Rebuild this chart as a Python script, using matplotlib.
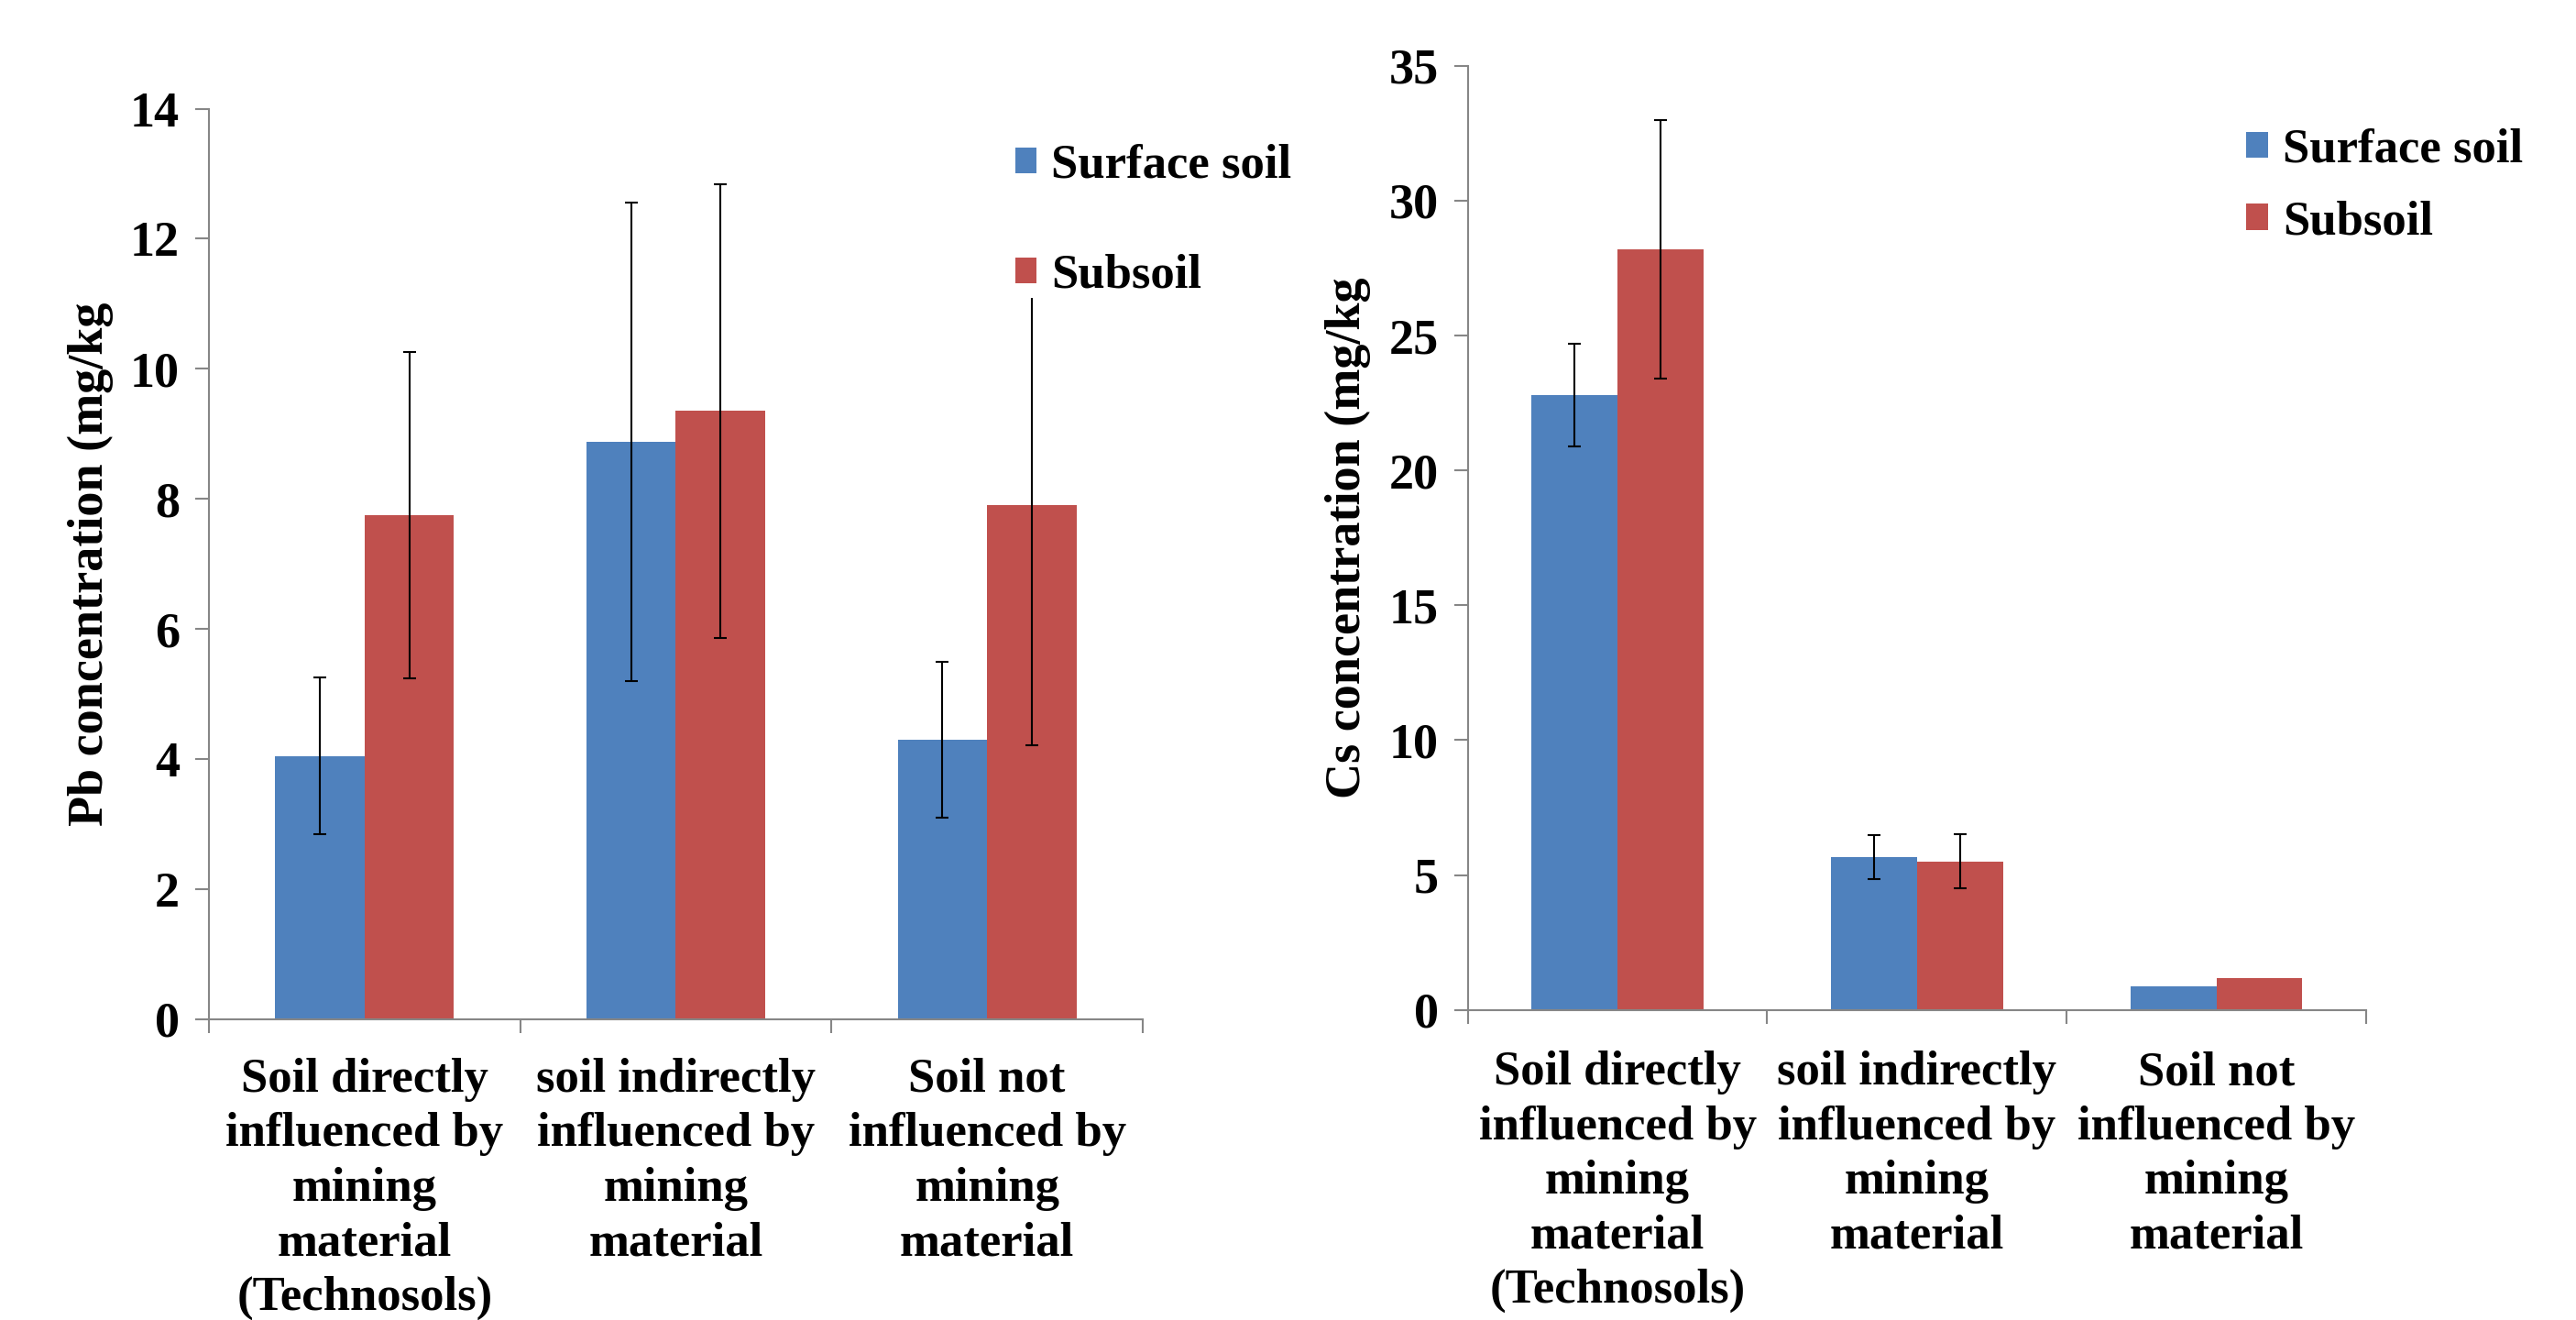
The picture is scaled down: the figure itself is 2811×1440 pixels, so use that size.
import numpy as np
import matplotlib
matplotlib.use('Agg')
import matplotlib.pyplot as plt

# ---- Du lieu doc tu hinh ----
categories = ['Soil directly\ninfluenced by\nmining\nmaterial\n(Technosols)',
              'soil indirectly\ninfluenced by\nmining\nmaterial',
              'Soil not\ninfluenced by\nmining\nmaterial']
series_names = ['Surface soil', 'Subsoil']

pb_surface = [4.05, 8.88, 4.30]
pb_surface_err = [1.20, 3.68, 1.20]
pb_subsoil = [7.75, 9.35, 7.90]
pb_subsoil_err = [2.51, 3.49, 3.69]

cs_surface = [22.8, 5.67, 0.88]
cs_surface_err = [1.90, 0.82, 0.0]
cs_subsoil = [28.2, 5.51, 1.17]
cs_subsoil_err = [4.80, 1.00, 0.0]

pb_yticks = [0, 2, 4, 6, 8, 10, 12, 14]
cs_yticks = [0, 5, 10, 15, 20, 25, 30, 35]

BLUE = '#4F81BD'
RED = '#C0504D'
GRAY = '#868686'

plt.rcParams['font.family'] = ['Liberation Serif', 'DejaVu Serif']
plt.rcParams['font.weight'] = 'bold'
FS = 39

fig = plt.figure(figsize=(28.11, 14.40), dpi=100)


def VeBieuDo(ax, surf, surf_err, sub, sub_err, yticks, ylabel, label_x,
             leg_xy, leg_spacing, label_pad):
    x = np.arange(len(categories))
    w = 0.287
    ax.bar(x - w / 2, surf, w, color=BLUE, label=series_names[0], zorder=2)
    ax.bar(x + w / 2, sub, w, color=RED, label=series_names[1], zorder=2)
    # error bars (khong ve khi sai so = 0)
    for xs, ys, es in [(x - w / 2, surf, surf_err), (x + w / 2, sub, sub_err)]:
        for xi, yi, ei in zip(xs, ys, es):
            if ei > 0:
                ax.errorbar(xi, yi, yerr=ei, fmt='none', ecolor='black',
                            elinewidth=1.5, capsize=5, capthick=1.5, zorder=3)
    ax.set_xlim(-0.5, len(categories) - 0.5)
    ax.set_ylim(yticks[0], yticks[-1])
    ax.set_yticks(yticks)
    ax.set_xticks(x)
    ax.set_xticklabels(categories, fontsize=FS - 1, fontweight='bold',
                       linespacing=1.31)
    ax.set_xticks(np.arange(len(categories) + 1) - 0.5, minor=True)
    ax.tick_params(axis='x', which='major', length=0, pad=label_pad)
    ax.tick_params(axis='x', which='minor', length=11, width=1.5, color=GRAY)
    ax.tick_params(axis='y', length=11, width=1.5, color=GRAY, labelsize=FS,
                   pad=12)
    for s in ['top', 'right']:
        ax.spines[s].set_visible(False)
    for s in ['left', 'bottom']:
        ax.spines[s].set_color(GRAY)
        ax.spines[s].set_linewidth(1.5)
    ax.set_ylabel(ylabel, fontsize=FS, fontweight='bold', va='center')
    ax.yaxis.set_label_coords(label_x, 0.5)
    leg = ax.legend(loc='upper left', bbox_to_anchor=leg_xy,
                    bbox_transform=fig.transFigure, frameon=True,
                    facecolor='white', edgecolor='none', framealpha=1,
                    fontsize=FS - 1, handlelength=0.45, handleheight=0.45,
                    handletextpad=0.3, labelspacing=leg_spacing, borderpad=0,
                    borderaxespad=0)
    leg.set_zorder(10)


ax1 = fig.add_axes([0.0811, 0.2278, 0.3625, 0.6899])
VeBieuDo(ax1, pb_surface, pb_surface_err, pb_subsoil, pb_subsoil_err,
         pb_yticks, 'Pb concentration (mg/kg', -0.127, (0.394, 0.891), 1.36, 30)

ax2 = fig.add_axes([0.5698, 0.2349, 0.3487, 0.7153])
VeBieuDo(ax2, cs_surface, cs_surface_err, cs_subsoil, cs_subsoil_err,
         cs_yticks, 'Cs concentration (mg/kg', -0.134, (0.872, 0.903), 0.58, 32)

fig.savefig('out.png', dpi=100, facecolor='white')
